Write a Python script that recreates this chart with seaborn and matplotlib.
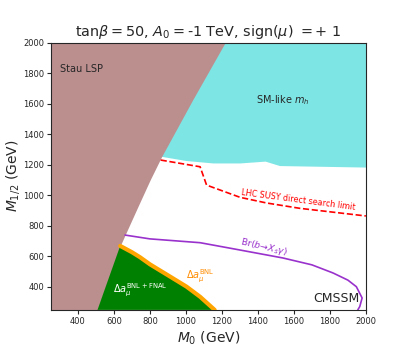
import numpy as np
import pandas as pd
import seaborn as sns
import matplotlib.pyplot as plt

# region boundaries (M0, M1/2 in GeV)
stau_m0 = [509, 560, 635, 662, 735, 801, 865, 1040, 1218]
stau_m12 = [250, 420, 669, 740, 930, 1100, 1253, 1630, 2000]

higgs_m0 = [850, 1000, 1150, 1300, 1440, 1520, 2000]
higgs_m12 = [1258, 1228, 1212, 1212, 1224, 1195, 1185]

lhc_m0 = [860, 1079, 1115, 1301, 1448, 1633, 2000]
lhc_m12 = [1231, 1187, 1067, 987, 950, 915, 865]

bsg_m0 = [662, 800, 1079, 1301, 1539, 1700, 1817, 1900, 1947, 1979, 1966, 1955]
bsg_m12 = [740, 715, 690, 642, 590, 545, 492, 445, 402, 328, 272, 250]

gm2_m0 = [635, 700, 745, 801, 900, 1004, 1080, 1160]
gm2_m12 = [669, 628, 595, 548, 477, 402, 335, 250]

sns.set_style("ticks")
fig, ax = plt.subplots(figsize=(4.07, 3.49), dpi=100)
fig.subplots_adjust(left=0.125, right=0.899, bottom=0.112, top=0.878)

# SM-like Higgs region (cyan)
ax.fill_between(higgs_m0, higgs_m12, 2000, color="#7ee5e5", lw=0)
ax.fill_between([250, 850], 1258, 2000, color="#7ee5e5", lw=0)

# stau LSP region
ax.fill_betweenx(stau_m12, 250, stau_m0, color="#bc8f8f", lw=0, zorder=2)

# g-2 region: stau edge up to the orange curve, then down the curve
poly_x = stau_m0[:3] + gm2_m0[1:]
poly_y = stau_m12[:3] + gm2_m12[1:]
ax.fill(poly_x, poly_y, color="green", lw=0, zorder=2)

sns.lineplot(x=gm2_m0, y=gm2_m12, sort=False, estimator=None, color="orange",
             lw=3, ax=ax, zorder=3)
sns.lineplot(x=bsg_m0, y=bsg_m12, sort=False, estimator=None, color="darkorchid",
             lw=1.2, ax=ax, zorder=3)
sns.lineplot(x=lhc_m0, y=lhc_m12, sort=False, estimator=None, color="red",
             lw=1.2, ls="--", ax=ax, zorder=3)

ax.text(302, 1826, "Stau LSP", fontsize=7, va="center")
ax.text(1540, 1623, "SM-like $m_h$", fontsize=7, ha="center", va="center")
ax.text(1622, 969, "LHC SUSY direct search limit", fontsize=5.8, color="red",
        ha="center", va="center", rotation=-7.5)
ax.text(1436, 659, r"Br($b\!\rightarrow\!X_s\gamma$)", fontsize=6.7, color="darkorchid",
        ha="center", va="center", rotation=-13)
ax.text(1080, 470, r"$\Delta a_\mu^{\rm BNL}$", fontsize=7, color="darkorange",
        ha="center", va="center")
ax.text(746, 381, r"$\Delta a_\mu^{\rm BNL+FNAL}$", fontsize=7, color="white",
        ha="center", va="center", zorder=4)
ax.text(1837, 327, "CMSSM", fontsize=9, ha="center", va="center", zorder=4)

ax.set_xlim(250, 2000)
ax.set_ylim(250, 2000)
ax.set_xticks(range(400, 2001, 200))
ax.set_yticks(range(400, 2001, 200))
ax.tick_params(labelsize=6, length=3, pad=2)
ax.set_xlabel("$M_0$ (GeV)", fontsize=10)
ax.set_ylabel("$M_{1/2}$ (GeV)", fontsize=10)
ax.xaxis.set_label_coords(0.5, -0.075)
ax.yaxis.set_label_coords(-0.092, 0.5)
ax.set_title(r"tan$\beta = 50$, $A_0 = $-1 TeV, sign($\mu$) $= +\ 1$", fontsize=10.4, pad=5)

fig.savefig("out.png", dpi=100)
